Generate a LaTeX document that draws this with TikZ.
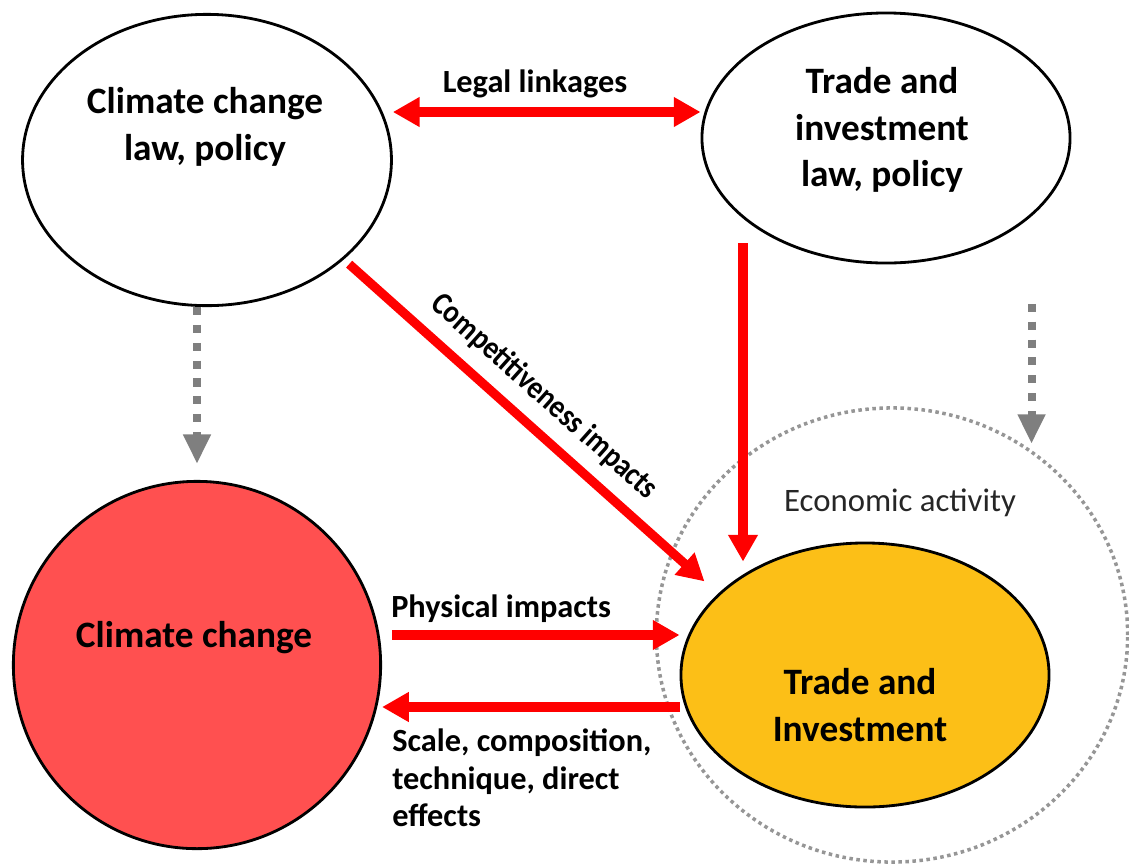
\documentclass[tikz,border=0pt]{standalone}
\usepackage{fontspec}
\setmainfont{Carlito}
\usepackage{graphicx}
\usepackage{tikz}
\usetikzlibrary{positioning,shapes,arrows.meta,calc}
\definecolor{ccred}{RGB}{255,80,80}
\definecolor{tigold}{RGB}{252,191,23}
\definecolor{dotgray}{RGB}{127,127,127}
\definecolor{ringgray}{RGB}{150,150,150}
\tikzstyle{bubble} = [ellipse, draw=black, line width=2pt, inner sep=0pt]
\tikzstyle{bigtext} = [font=\fontsize{26.5}{33}\selectfont\bfseries, align=center, inner sep=0pt]
\tikzstyle{lbl} = [font=\fontsize{23}{27}\selectfont\bfseries, inner sep=0pt]
\tikzstyle{arrow} = [draw=red, line width=6.5pt, >={Triangle[width=20pt,length=19pt]}, ->]
\tikzstyle{dotarrow} = [draw=dotgray, line width=5.7pt, dash pattern=on 5.7pt off 7pt, -{Triangle[width=18.5pt,length=21pt]}]

\begin{document}
\begin{tikzpicture}[x=0.025cm, y=-0.025cm]
\useasboundingbox (0,0) rectangle (1129,863);

\node (ea) [ellipse, draw=ringgray, line width=2.5pt, dash pattern=on 2.5pt off 2.5pt, minimum width=11.78cm, minimum height=11.35cm] at (892,635) {};
\node (eatxt) [font=\fontsize{23.3}{26}\selectfont, text=black!85] at (900,503) {Economic activity};

\node (ccl) [bubble, minimum width=9.22cm, minimum height=7.28cm] at (207,160) {};
\node (ccltxt) [bigtext] at (205,127) {Climate change\\law, policy};

\node (til) [bubble, minimum width=9.2cm, minimum height=6.25cm] at (886,138) {};
\node (tiltxt) [bigtext] at (882,130) {Trade and\\investment\\law, policy};

\node (cc) [bubble, circle, fill=ccred, minimum size=9.18cm] at (197,665) {};
\node (cctxt) [bigtext] at (194,638) {Climate change};

\node (tni) [bubble, fill=tigold, minimum width=9.2cm, minimum height=6.6cm] at (865,675) {};
\node (tnitxt) [bigtext] at (860,705) {Trade and\\Investment};

\draw [arrow,<->] (ccl.east |- 0,112) -- (til.west |- 0,112);
\node (legal) [lbl, anchor=base] at (535,92) {Legal linkages};

\draw [arrow, shorten <=5pt, shorten >=13pt] (ccl.324.5) -- (tni.151.6) node [lbl, pos=0.48, sloped, above=9pt] (comp) {\scalebox{0.87}[1]{Competitiveness impacts}};

\draw [arrow] ($(til.south -| 743,0)+(0,-21)$) -- ($(tni.north -| 743,0)+(0,20)$);

\draw [arrow, shorten <=7pt] (cc.east |- 0,635) -- (tni.west |- 0,635);
\node (phys) [lbl, anchor=base west] at (391,617) {Physical impacts};

\draw [arrow] (tni.west |- 0,707) -- (cc.east |- 0,707);
\node (scale) [lbl, anchor=north west, align=left] at (392,728) {Scale, composition,\\technique, direct\\effects};

% policy -> outcomes
\draw [dotarrow, shorten >=11.4pt] (cc.north |- ccl.south) -- (cc.north);
\draw [dotarrow, shorten >=4.3pt] ($(ea.53)+(0,-146)$) -- (ea.53);

\end{tikzpicture}
\end{document}
